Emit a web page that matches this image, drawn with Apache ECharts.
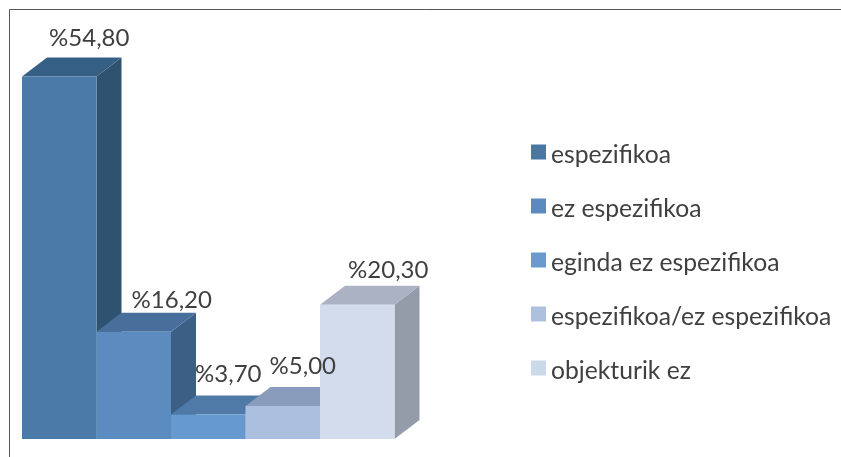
<!DOCTYPE html>
<html>
<head>
<meta charset="utf-8">
<style>
  html, body { margin: 0; padding: 0; background: #fff; }
  #main { width: 841px; height: 457px; }
</style>
<script src="https://cdn.jsdelivr.net/npm/echarts@6/dist/echarts.min.js"></script>
</head>
<body>
<div id="main"></div>
<script>
const categories = ["espezifikoa", "ez espezifikoa", "eginda ez espezifikoa", "espezifikoa/ez espezifikoa", "objekturik ez"];
const values = [54.8, 16.2, 3.7, 5.0, 20.3];

const frontColors = ["#4c7aa8", "#5b8bbf", "#6699cf", "#abbfdf", "#d3dcec"];
const topColors = ["#365f86", "#486f9b", "#4f7aa8", "#8a9cbb", "#abb2c4"];
const sideColors = ["#2f5270", "#3b5f85", "#3f6590", "#78879f", "#959ca9"];
const legendColors = ["#4a76a4", "#5a8abe", "#6a9ace", "#adc0de", "#ccd9e9"];

// 3d look of the columns, in pixels
const depthX = 25;
const depthY = 19;
// hand placed labels, relative to the top middle of the front face
const labelDx = [30, 38, 20, 20, 31];
const labelDy = [38, 32, 40, 40, 34];

function formatValue(v) {
  return "%" + v.toFixed(2).replace(".", ",");
}

function renderColumn(params, api) {
  const i = api.value(0);
  const v = api.value(1);
  const w = api.size([1, 0])[0];
  const base = api.coord([i, 0]);
  const head = api.coord([i, v]);
  const x0 = base[0] - w / 2;
  const x1 = base[0] + w / 2;
  const y0 = base[1];
  const y1 = head[1];
  return {
    type: "group",
    children: [
      {
        type: "polygon",
        shape: { points: [[x1, y1], [x1 + depthX, y1 - depthY], [x1 + depthX, y0 - depthY], [x1, y0]] },
        style: { fill: sideColors[i] },
      },
      {
        type: "polygon",
        shape: { points: [[x0, y1], [x0 + depthX, y1 - depthY], [x1 + depthX, y1 - depthY], [x1, y1]] },
        style: { fill: topColors[i] },
      },
      {
        type: "rect",
        shape: { x: x0, y: y1, width: x1 - x0, height: y0 - y1 },
        style: { fill: frontColors[i] },
      },
      {
        type: "text",
        z2: 100,
        style: {
          x: base[0] + labelDx[i],
          y: y1 - labelDy[i],
          text: formatValue(v),
          align: "center",
          verticalAlign: "middle",
          font: "24px Lato",
          fill: "#404040",
        },
      },
    ],
  };
}

const chart = echarts.init(document.getElementById("main"), null, { renderer: "canvas" });

chart.setOption({
  animation: false,
  backgroundColor: "#fff",
  grid: { left: 22, width: 372.5, top: 42, height: 397 },
  xAxis: { type: "category", data: categories, show: false },
  yAxis: { type: "value", min: 0, max: 60, show: false },
  legend: {
    orient: "vertical",
    left: 531,
    top: 136.5,
    padding: 0,
    itemWidth: 15,
    itemHeight: 15,
    itemGap: 23,
    icon: "rect",
    formatter: (name) => "{t|" + name + "}",
    textStyle: {
      rich: {
        t: { fontFamily: "Lato", fontSize: 24.7, lineHeight: 24, color: "#404040", padding: [6, 0, 0, 0] },
      },
    },
    data: categories,
  },
  graphic: [
    {
      type: "polyline",
      silent: true,
      shape: { points: [[9.5, 457], [9.5, 9.5], [841, 9.5]] },
      style: { fill: null, stroke: "#555", lineWidth: 1 },
    },
  ],
  series: categories.map((name, i) => ({
    type: "custom",
    name: name,
    renderItem: renderColumn,
    itemStyle: { color: legendColors[i] },
    encode: { x: 0, y: 1 },
    data: [[i, values[i]]],
  })),
});
</script>
</body>
</html>
